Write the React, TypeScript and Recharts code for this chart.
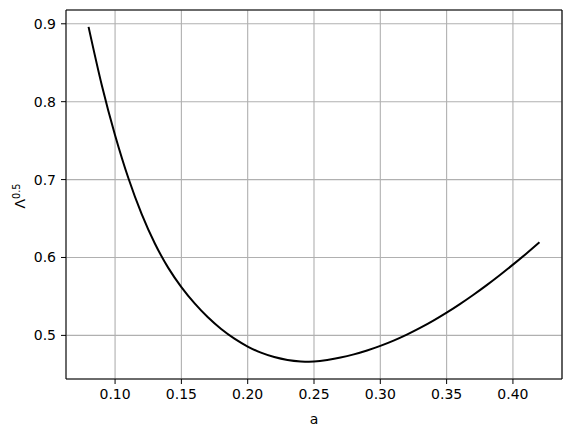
import React from "react";
import { LineChart, Line, XAxis, YAxis, CartesianGrid, ReferenceLine } from "recharts";

const aValues = [
  0.08, 0.09, 0.1, 0.11, 0.12, 0.13, 0.14, 0.15, 0.16, 0.17, 0.18, 0.19, 0.2,
  0.21, 0.22, 0.23, 0.24, 0.25, 0.26, 0.27, 0.28, 0.29, 0.3, 0.31, 0.32, 0.33,
  0.34, 0.35, 0.36, 0.37, 0.38, 0.39, 0.4, 0.41, 0.42,
];
const lambdaSqrt = [
  0.896, 0.821, 0.757, 0.702, 0.656, 0.618, 0.587, 0.562, 0.541, 0.5232,
  0.5082, 0.4958, 0.4857, 0.4778, 0.4722, 0.4685, 0.4666, 0.4664, 0.4684,
  0.4715, 0.4756, 0.4806, 0.4865, 0.4933, 0.501, 0.5096, 0.519, 0.5292,
  0.5402, 0.5519, 0.5642, 0.5772, 0.5908, 0.6049, 0.6195,
];
const xTicks = [0.1, 0.15, 0.2, 0.25, 0.3, 0.35, 0.4];
const yTicks = [0.5, 0.6, 0.7, 0.8, 0.9];

const X_DOMAIN: [number, number] = [0.063, 0.437];
const Y_DOMAIN: [number, number] = [0.444, 0.9177];

const data = aValues.map((a, i) => ({ a, v: lambdaSqrt[i] }));

const FONT = "DejaVu Sans, sans-serif";

const YLabel = () => (
  <text
    x={25}
    y={196}
    transform="rotate(-90, 25, 196)"
    textAnchor="middle"
    fontFamily={FONT}
    fontSize={14}
    fill="#000"
  >
    Λ
    <tspan dy={-5.5} fontSize={9.8}>
      0.5
    </tspan>
  </text>
);

export default function App() {
  return (
    <div style={{ position: "absolute", left: 0, top: 0, background: "#fff" }}>
      <LineChart
        width={572}
        height={432}
        data={data}
        margin={{ top: 10, right: 10, bottom: 0, left: 0 }}
      >
        <CartesianGrid stroke="#b0b0b0" strokeWidth={1.1} />
        <XAxis
          dataKey="a"
          type="number"
          domain={X_DOMAIN}
          ticks={xTicks}
          interval={0}
          allowDataOverflow
          tickFormatter={(v: number) => v.toFixed(2)}
          height={53}
          tickSize={5}
          tickMargin={5}
          stroke="#000"
          tick={{ fill: "#000", fontSize: 14, fontFamily: FONT }}
          label={{
            value: "a",
            position: "insideBottom",
            offset: 8,
            fill: "#000",
            fontSize: 14,
            fontFamily: FONT,
          }}
        />
        <YAxis
          type="number"
          domain={Y_DOMAIN}
          ticks={yTicks}
          interval={0}
          allowDataOverflow
          tickFormatter={(v: number) => v.toFixed(1)}
          width={66}
          tickSize={5}
          tickMargin={5}
          stroke="#000"
          tick={{ fill: "#000", fontSize: 14, fontFamily: FONT }}
          label={{ content: () => <YLabel /> }}
        />
        <ReferenceLine y={Y_DOMAIN[1]} stroke="#000" strokeWidth={1.1} />
        <ReferenceLine x={X_DOMAIN[1]} stroke="#000" strokeWidth={1.1} />
        <Line
          type="natural"
          dataKey="v"
          stroke="#000"
          strokeWidth={2}
          dot={false}
          isAnimationActive={false}
        />
      </LineChart>
    </div>
  );
}
